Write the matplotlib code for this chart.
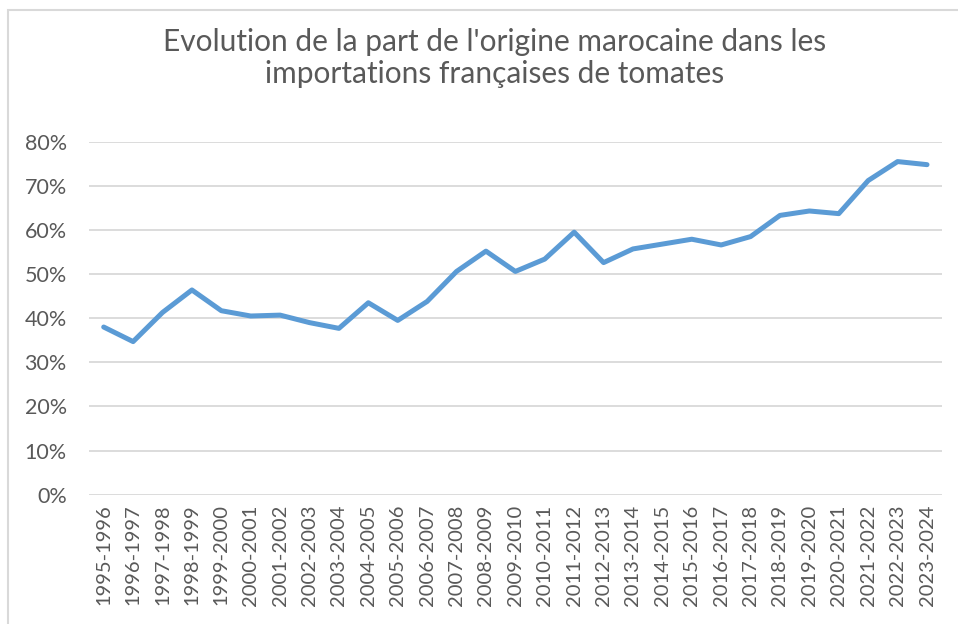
import matplotlib
matplotlib.use('Agg')
import matplotlib.pyplot as plt
from matplotlib.ticker import FuncFormatter
from matplotlib.patches import Rectangle


campagnes = ['1995-1996', '1996-1997', '1997-1998', '1998-1999', '1999-2000',
             '2000-2001', '2001-2002', '2002-2003', '2003-2004', '2004-2005',
             '2005-2006', '2006-2007', '2007-2008', '2008-2009', '2009-2010',
             '2010-2011', '2011-2012', '2012-2013', '2013-2014', '2014-2015',
             '2015-2016', '2016-2017', '2017-2018', '2018-2019', '2019-2020',
             '2020-2021', '2021-2022', '2022-2023', '2023-2024']

# part du Maroc (en fraction)
part_maroc = [0.380, 0.347, 0.413, 0.464, 0.417, 0.405, 0.407, 0.390, 0.377,
              0.435, 0.395, 0.438, 0.506, 0.552, 0.506, 0.534, 0.595, 0.526,
              0.557, 0.568, 0.579, 0.566, 0.585, 0.633, 0.643, 0.637, 0.712,
              0.755, 0.748]

grey = '#595959'
plt.rcParams['font.family'] = ['Lato', 'DejaVu Sans']

fig = plt.figure(figsize=(9.58, 6.24), dpi=100)
ax = fig.add_axes([0.0929, 0.2072, 0.983 - 0.0929, 0.7729 - 0.2072])

# cadre du graphique (coupé à droite et en bas)
fig.patches.append(Rectangle((8 / 958, -0.1), 1.2, 1 - 10 / 624 + 0.1,
                             transform=fig.transFigure, fill=False,
                             edgecolor='#d9d9d9', linewidth=1.5))

x = list(range(len(campagnes)))
ax.plot(x, part_maroc, color='#5B9BD5', linewidth=3.6,
        solid_capstyle='round', solid_joinstyle='round', zorder=3)

ax.set_xlim(-0.5, len(campagnes) - 0.5)
ax.set_ylim(0, 0.8)
ax.set_yticks([i / 10 for i in range(9)])
ax.yaxis.set_major_formatter(FuncFormatter(lambda v, pos: f'{v * 100:.0f}%'))
ax.set_xticks(x)
ax.set_xticklabels(campagnes, rotation=90)

ax.tick_params(axis='y', length=0, pad=16, labelsize=15.5, labelcolor=grey)
ax.tick_params(axis='x', length=0, pad=7, labelsize=14.5, labelcolor=grey)

ax.grid(axis='y', color='#d9d9d9', linewidth=1.3)
ax.set_axisbelow(True)
for s in ax.spines.values():
    s.set_visible(False)

fig.text(495 / 958, 1 - 58 / 624, "Evolution de la part de l'origine marocaine dans les\nimportations françaises de tomates",
         ha='center', va='center', fontsize=21.5, color=grey, linespacing=1.15)

fig.savefig('out.png', dpi=100)
